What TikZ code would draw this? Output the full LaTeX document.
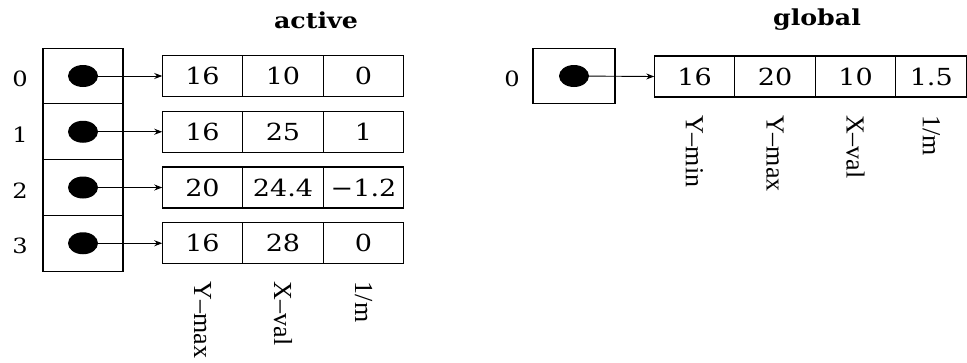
\documentclass[tikz,border=0pt]{standalone}
\usepackage{graphicx}
\usepackage{fontspec}
\setmainfont{DejaVu Serif}
\newfontfamily\colfont{Liberation Serif}
\usetikzlibrary{arrows.meta,positioning,shapes.geometric}

\newcommand{\wide}[1]{\scalebox{1.15}[1]{#1}}

\begin{document}
\begin{tikzpicture}[
  x=1pt,y=-1pt,
  slot/.style={draw,line width=1.2pt,outer sep=0pt,inner sep=0pt,
    minimum width=80pt,minimum height=55.75pt},
  field/.style={draw,line width=1.2pt,outer sep=0pt,inner sep=0pt,
    minimum width=#1,minimum height=41pt,font=\fontsize{23.5}{27}\selectfont},
  field/.default=80.5pt,
  dot/.style={ellipse,fill=black,inner sep=0pt,minimum width=30pt,minimum height=22pt},
  ptr/.style={-{Stealth[length=8pt,width=6pt]},line width=.9pt},
  idx/.style={font=\fontsize{21}{24}\selectfont},
  title/.style={font=\bfseries\fontsize{22}{26}\selectfont},
  colname/.style={rotate=-90,anchor=west,inner sep=0pt,font=\colfont\fontsize{26}{30}\selectfont}
]
\useasboundingbox (0,0) rectangle (967,362);

% active edge table
\node[title] (active) at (316,20) {\scalebox{1.15}[1]{active}};
\foreach \i/\ymax/\xval/\inv in {0/16/10/0,1/16/25/1,2/20/24.4/−1.2,3/16/28/0}{
  \node[slot] (s\i) at (83,{76+55.75*\i}) {};
  \node[dot] (d\i) at (s\i) {};
  \node[idx] (n\i) at (20,{79+55.75*\i}) {\wide{\i}};
  \node[field] (a\i) at (202.5,{76+55.75*\i}) {\wide{\ymax}};
  \node[field,right=0pt of a\i] (b\i) {\wide{\xval}};
  \node[field,right=0pt of b\i] (c\i) {\wide{\inv}};
  \draw[ptr] (d\i) -- (a\i.west);
}
\node[colname] (ymaxA) at ([yshift=-18pt]a3.south) {Y–max};
\node[colname] (xvalA) at ([yshift=-18pt]b3.south) {X–val};
\node[colname] (slopeA) at ([yshift=-18pt]c3.south) {1/m};

% global edge table
\node[title] (global) at (817,20) {\scalebox{1.15}[1]{global}};
\node[slot,minimum width=82pt] (gs) at (574,76) {};
\node[dot] (gd) at (gs) {};
\node[idx] (gn) at (512,79) {\wide{0}};
\node[field] (g1) at (694.5,76.5) {\wide{16}};
\node[field,right=0pt of g1] (g2) {\wide{20}};
\node[field,right=0pt of g2] (g3) {\wide{10}};
\node[field=71pt,right=0pt of g3] (g4) {\wide{1.5}};
\draw[ptr] (gd) -- (g1.west);
\node[colname] (yminG) at ([yshift=-18pt]g1.south) {Y–min};
\node[colname] (ymaxG) at ([yshift=-18pt]g2.south) {Y–max};
\node[colname] (xvalG) at ([yshift=-18pt]g3.south) {X–val};
\node[colname] (slopeG) at ([yshift=-18pt]g4.south) {1/m};
\end{tikzpicture}
\end{document}
